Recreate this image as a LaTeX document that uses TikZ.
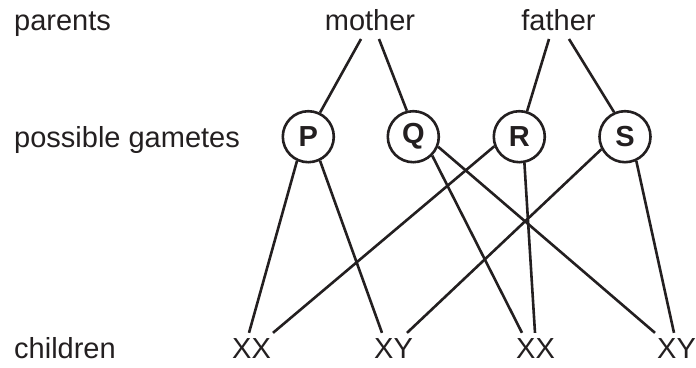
\documentclass[tikz,border=0pt]{standalone}
\usepackage{fontspec}
\setmainfont{Liberation Sans}
\usetikzlibrary{calc}
\definecolor{ink}{HTML}{231F20}
\begin{document}
\begin{tikzpicture}[x=1pt,y=-1pt,
  lab/.style={inner sep=0pt,anchor=base west,text=ink,font=\fontsize{29}{35}\selectfont},
  txt/.style={inner sep=0pt,anchor=base,text=ink,font=\fontsize{29}{35}\selectfont},
  gam/.style={circle,draw=ink,line width=2.6pt,minimum size=51pt,inner sep=0pt,text=ink,font=\fontsize{29}{35}\selectfont\bfseries},
  conn/.style={draw=ink,line width=2.6pt}]
\useasboundingbox (0,0) rectangle (696,367);
% row labels
\node[lab] (lp) at (14,30) {parents};
\node[lab] (lg) at (14,147) {possible gametes};
\node[lab] (lc) at (14,358) {children};
% parents
\node[txt] (m) at (370,30) {mother};
\node[txt] (f) at (558.5,30) {father};
% gametes
\node[gam] (P) at (308.3,136.7) {P};
\node[gam] (Q) at (413.3,136.7) {Q};
\node[gam] (R) at (519.3,136.7) {R};
\node[gam] (S) at (625,136.7) {S};
% children
\node[txt] (c1) at (251.5,358) {XX};
\node[txt] (c2) at (393.5,358) {XY};
\node[txt] (c3) at (535.5,358) {XX};
\node[txt] (c4) at (676.5,358) {XY};
% parent to gamete
\draw[conn] ($(m.base)+(-9,9)$) -- (P.64);
\draw[conn] ($(m.base)+(9,9)$) -- (Q.104);
\draw[conn] ($(f.base)+(-9.5,9)$) -- (R.73);
\draw[conn] ($(f.base)+(10.5,9)$) -- (S.114);
% gamete to children
\draw[conn] (P.245) -- ($(c1.north)+(-2.5,-5)$);
\draw[conn] (P.-64) -- ($(c2.north)+(-11.5,-5)$);
\draw[conn] (Q.-45) -- ($(c3.north)+(-13.5,-5)$);
\draw[conn] (Q.-22) -- ($(c4.north)+(-21.5,-5)$);
\draw[conn] (R.201) -- ($(c1.north)+(21.5,-5)$);
\draw[conn] (R.-79) -- ($(c3.north)+(-0.5,-5)$);
\draw[conn] (S.208) -- ($(c2.north)+(13.5,-5)$);
\draw[conn] (S.-65) -- ($(c4.north)+(-2.5,-5)$);
\end{tikzpicture}
\end{document}
